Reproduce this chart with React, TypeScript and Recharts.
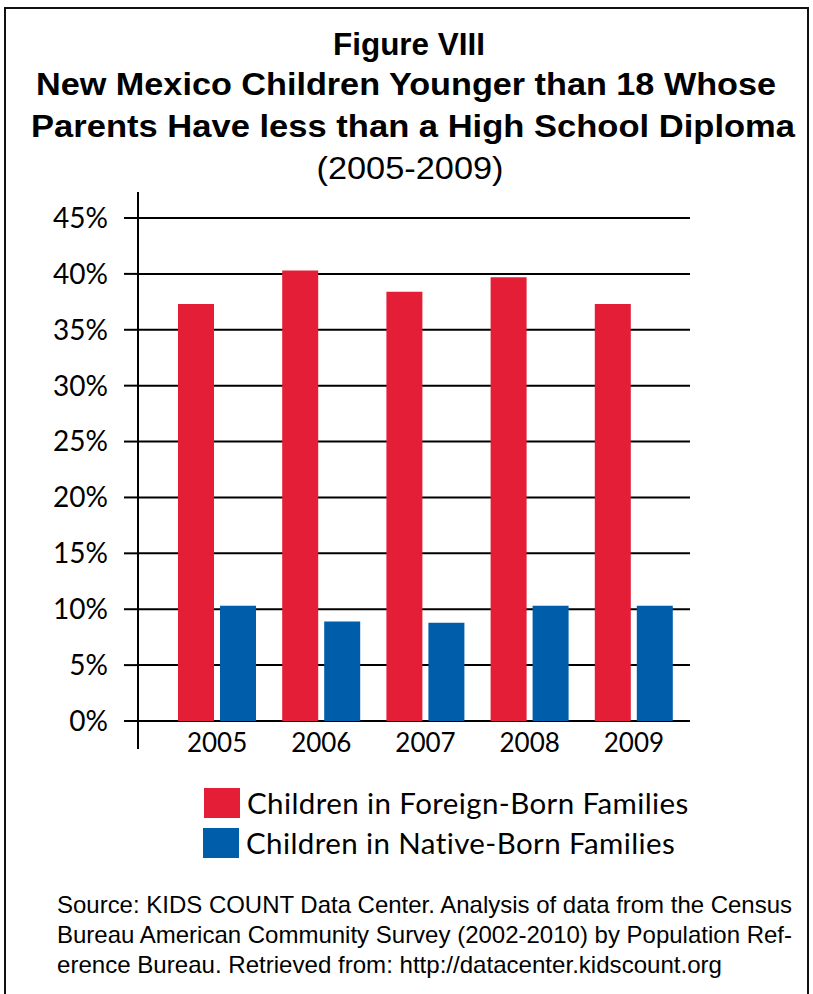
import React from 'react';
import { BarChart, Bar, XAxis, YAxis, CartesianGrid } from 'recharts';

const years = ['2005', '2006', '2007', '2008', '2009'];
const foreignBorn = [37.3, 40.3, 38.4, 39.7, 37.3];
const nativeBorn = [10.3, 8.9, 8.8, 10.3, 10.3];
const yTicks = [0, 5, 10, 15, 20, 25, 30, 35, 40, 45];

const titleLines = [
  'Figure VIII',
  'New Mexico Children Younger than 18 Whose',
  'Parents Have less than a High School Diploma',
];
const subtitle = '(2005-2009)';
const sourceLines = [
  'Source: KIDS COUNT Data Center. Analysis of data from the Census',
  'Bureau American Community Survey (2002-2010) by Population Ref-',
  'erence Bureau. Retrieved from: http://datacenter.kidscount.org',
];

const series = [
  { key: 'foreign', name: 'Children in Foreign-Born Families', color: '#E31E36' },
  { key: 'native', name: 'Children in Native-Born Families', color: '#005DAA' },
];

const data = years.map((year, i) => ({
  year,
  foreign: foreignBorn[i],
  native: nativeBorn[i],
}));

const calibriLike = 'Lato, "Open Sans", sans-serif';
const arialLike = '"Liberation Sans", Arial, sans-serif';

// title layout: [centre x, baseline, width]
const titlePos = [
  [409, 55, 152],
  [406, 95, 740],
  [413, 137, 764],
];
const sourceLen = [735, 735, 665];

const YearTick = ({ x, y, payload }: any) => (
  <text x={x} y={y + 3} textAnchor="middle" fontFamily={calibriLike} fontSize={26} fill="#000">
    {payload.value}
  </text>
);

export default function App() {
  return (
    <div style={{ position: 'absolute', left: 0, top: 0, width: 813, height: 994, overflow: 'hidden', background: '#fff' }}>
      {/* outer frame */}
      <div style={{ position: 'absolute', left: 4, top: 7, width: 801, height: 1010, border: '2px solid #111' }} />

      <svg width={813} height={200} style={{ position: 'absolute', left: 0, top: 0 }}>
        {titleLines.map((t, i) => (
          <text
            key={t}
            x={titlePos[i][0]}
            y={titlePos[i][1]}
            textAnchor="middle"
            textLength={titlePos[i][2]}
            lengthAdjust="spacingAndGlyphs"
            fontFamily={arialLike}
            fontWeight="bold"
            fontSize={32}
            fill="#000"
          >
            {t}
          </text>
        ))}
        <text
          x={410}
          y={179}
          textAnchor="middle"
          textLength={187}
          lengthAdjust="spacingAndGlyphs"
          fontFamily={arialLike}
          fontSize={31}
          fill="#000"
        >
          {subtitle}
        </text>
      </svg>

      <div style={{ position: 'absolute', left: 0, top: 0 }}>
        <BarChart
          width={813}
          height={760}
          data={data}
          margin={{ top: 192, right: 123, bottom: 0, left: 0 }}
          barSize={36}
          barGap={6}
        >
          <CartesianGrid vertical={false} horizontalValues={yTicks} stroke="#000" strokeWidth={2} />
          <XAxis
            dataKey="year"
            height={11}
            axisLine={false}
            tickLine={false}
            tickSize={0}
            tickMargin={0}
            padding={{ left: 27, right: 4 }}
            tick={<YearTick />}
            interval={0}
          />
          <YAxis
            width={138}
            domain={[0, 45]}
            ticks={yTicks}
            interval={0}
            padding={{ top: 26, bottom: 28 }}
            tickFormatter={(v) => `${v}%`}
            tickSize={14}
            tickMargin={16}
            axisLine={{ stroke: '#000', strokeWidth: 2 }}
            tickLine={{ stroke: '#000', strokeWidth: 2 }}
            tick={{ fontFamily: calibriLike, fontSize: 28, fill: '#000' }}
          />
          {series.map((s) => (
            <Bar key={s.key} dataKey={s.key} name={s.name} fill={s.color} isAnimationActive={false} />
          ))}
        </BarChart>
      </div>

      {/* legend */}
      {series.map((s, i) => (
        <div key={s.key} style={{ position: 'absolute', left: 204 - i, top: 788 + i * 40, height: 30, display: 'flex', alignItems: 'center' }}>
          <div style={{ width: 36, height: 30, background: s.color }} />
          <span style={{ marginLeft: 7, fontFamily: calibriLike, fontSize: 29.5, letterSpacing: 0.4, color: '#000', lineHeight: '30px', whiteSpace: 'nowrap' }}>
            {s.name}
          </span>
        </div>
      ))}

      <svg width={813} height={120} style={{ position: 'absolute', left: 0, top: 880 }}>
        {sourceLines.map((t, i) => (
          <text
            key={t}
            x={57}
            y={33 + i * 30}
            textLength={sourceLen[i]}
            lengthAdjust="spacingAndGlyphs"
            fontFamily={arialLike}
            fontSize={24}
            fill="#000"
          >
            {t}
          </text>
        ))}
      </svg>
    </div>
  );
}
